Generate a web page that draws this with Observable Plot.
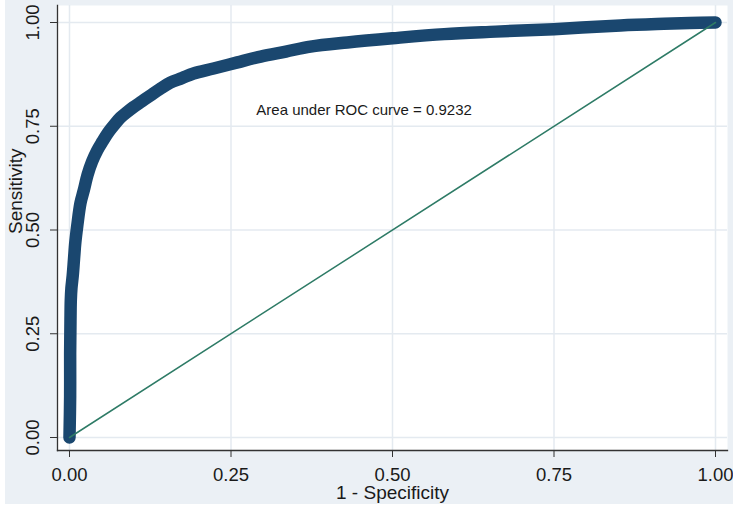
<!DOCTYPE html>
<html>
<head>
<meta charset="utf-8">
<script src="https://cdn.jsdelivr.net/npm/d3@7"></script>
<script src="https://cdn.jsdelivr.net/npm/@observablehq/plot@0.6"></script>
<style>
  html, body { margin: 0; padding: 0; background: #ffffff; }
  #chart { position: absolute; left: 5px; top: 0px; }
</style>
</head>
<body>
<div id="chart"></div>
<script>
// ROC curve points (1 - specificity, sensitivity)
const fpr = [0, 0.001, 0.001, 0.0015, 0.002, 0.003, 0.005, 0.007, 0.009, 0.012, 0.017, 0.022, 0.028, 0.035, 0.043, 0.051, 0.059, 0.069, 0.079, 0.089, 0.099, 0.112, 0.125, 0.140, 0.156, 0.174, 0.192, 0.223, 0.260, 0.296, 0.335, 0.373, 0.430, 0.500, 0.580, 0.660, 0.750, 0.853, 0.920, 0.960, 1.000];
const tpr = [0, 0.10, 0.20, 0.28, 0.33, 0.36, 0.39, 0.43, 0.47, 0.51, 0.565, 0.595, 0.633, 0.665, 0.692, 0.713, 0.733, 0.753, 0.771, 0.784, 0.796, 0.810, 0.824, 0.840, 0.855, 0.866, 0.877, 0.889, 0.904, 0.918, 0.930, 0.942, 0.952, 0.962, 0.972, 0.978, 0.984, 0.993, 0.997, 0.999, 1.000];
// reference (chance) line
const refX = [0, 1];
const refY = [0, 1];
// ticks
const xTicks = [0, 0.25, 0.5, 0.75, 1];
const yTicks = [0, 0.25, 0.5, 0.75, 1];
// annotation
const noteText = ["Area under ROC curve = 0.9232"];
const noteX = [0.456];
const noteY = [0.788];

const xLabel = "1 - Specificity";
const yLabel = "Sensitivity";

const curve = fpr.map((d, i) => ({x: d, y: tpr[i]}));
const diag = refX.map((d, i) => ({x: d, y: refY[i]}));
const notes = noteText.map((t, i) => ({t, x: noteX[i], y: noteY[i]}));

const font = "'Liberation Sans', Arial, Helvetica, sans-serif";
const ink = "#1a1a1a";

const chart = Plot.plot({
  width: 728,
  height: 504,
  marginLeft: 52,
  marginRight: 6,
  marginTop: 5,
  marginBottom: 54,
  style: {background: "#ebf0f5", fontFamily: font, fontSize: "18px", color: ink},
  x: {domain: [-12 / 646, 658 / 646]},
  y: {domain: [-13 / 415, 432 / 415]},
  marks: [
    Plot.frame({fill: "#ffffff", stroke: null}),
    Plot.gridX({ticks: xTicks, stroke: "#e4eaf0", strokeOpacity: 1, strokeWidth: 1.5}),
    Plot.gridY({ticks: yTicks, stroke: "#e4eaf0", strokeOpacity: 1, strokeWidth: 1.5}),
    Plot.axisX({ticks: xTicks, tickFormat: d3.format(".2f"), tickSize: 7, tickPadding: 10, fontSize: 18.5, label: null, stroke: "#333", fill: ink}),
    Plot.axisY({ticks: yTicks, tickFormat: d3.format(".2f"), tickSize: 7, tickPadding: 12, tickRotate: -90, fontSize: 18.5, label: null, stroke: "#333", fill: ink}),
    Plot.frame({anchor: "left", stroke: "#333", strokeWidth: 1.3}),
    Plot.frame({anchor: "bottom", stroke: "#333", strokeWidth: 1.3}),
    Plot.line(curve, {x: "x", y: "y", stroke: "#1a476f", strokeWidth: 12.5, strokeLinecap: "round", strokeLinejoin: "round", curve: "catmull-rom"}),
    Plot.line(diag, {x: "x", y: "y", stroke: "#2e7b66", strokeWidth: 1.5}),
    Plot.text(notes, {x: "x", y: "y", text: "t", fontSize: 15, fill: ink, textAnchor: "middle", lineAnchor: "middle"}),
    Plot.text([xLabel], {frameAnchor: "bottom", text: d => d, dy: 42, fontSize: 19, fill: ink, lineAnchor: "middle"}),
    Plot.text([yLabel], {frameAnchor: "left", text: d => d, rotate: -90, dx: -42, dy: 6, fontSize: 19, fill: ink, lineAnchor: "middle"})
  ]
});
document.getElementById("chart").appendChild(chart);
</script>
</body>
</html>
